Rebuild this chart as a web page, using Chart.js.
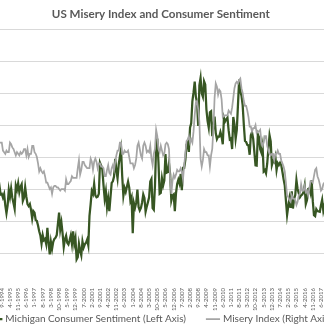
<!DOCTYPE html>
<html>
<head>
<meta charset="utf-8">
<script src="https://cdn.jsdelivr.net/npm/chart.js@4/dist/chart.umd.min.js"></script>
<style>
  html, body { margin: 0; padding: 0; background: #fff; }
  #wrap { position: relative; width: 324px; height: 329px; overflow: hidden; }
  #chart { position: absolute; left: -48px; top: 0; }
</style>
</head>
<body>
<div id="wrap"><canvas id="chart" width="420" height="334"></canvas></div>
<script>
// monthly data, Feb 1994 .. Dec 2017
const startYear = 1994, startMonth = 2;

// University of Michigan consumer sentiment (left axis, reversed)
const sentiment = [
  93.2, 91.5, 92.6, 92.8, 91.2, 89.0, 91.7, 91.5, 92.7, 91.6, 95.1,            // 1994
  97.6, 95.1, 90.3, 92.5, 89.8, 92.7, 94.4, 96.2, 88.9, 90.2, 88.2, 91.0,      // 1995
  89.3, 88.5, 93.7, 92.7, 89.4, 92.4, 94.7, 95.3, 94.7, 96.5, 99.2, 96.9,      // 1996
  97.4, 99.7, 100.0, 101.4, 103.2, 104.5, 107.1, 104.4, 106.0, 105.6, 107.2, 102.1, // 1997
  106.6, 110.4, 106.5, 108.7, 106.5, 105.6, 105.2, 104.4, 100.9, 97.4, 102.7, 100.5, // 1998
  103.9, 108.1, 105.7, 104.6, 106.8, 107.3, 106.0, 104.5, 107.2, 103.2, 107.2, 105.4, // 1999
  112.0, 111.3, 107.1, 109.2, 110.7, 106.4, 108.3, 107.3, 106.8, 105.8, 107.6, 98.4,  // 2000
  94.7, 90.6, 91.5, 88.4, 92.0, 92.6, 92.4, 91.5, 81.8, 82.7, 83.9, 88.8,      // 2001
  93.0, 90.7, 95.7, 93.0, 96.9, 92.4, 88.1, 87.6, 86.1, 80.6, 84.2, 86.7,      // 2002
  82.4, 79.9, 77.6, 86.0, 92.1, 89.7, 90.9, 89.3, 87.7, 89.6, 93.7, 92.6,      // 2003
  103.8, 94.4, 95.8, 94.2, 90.2, 95.6, 96.7, 95.9, 94.2, 91.7, 92.8, 97.1,     // 2004
  95.5, 94.1, 92.6, 87.7, 86.9, 96.0, 96.5, 89.1, 76.9, 74.2, 81.6, 91.5,      // 2005
  91.2, 86.7, 88.9, 87.4, 79.1, 84.9, 84.7, 82.0, 85.4, 93.6, 92.1, 91.7,      // 2006
  96.9, 91.3, 88.4, 87.1, 88.3, 85.3, 90.4, 83.4, 83.4, 80.9, 76.1, 75.5,      // 2007
  78.4, 70.8, 69.5, 62.6, 59.8, 56.4, 61.2, 63.0, 70.3, 57.6, 55.3, 60.1,      // 2008
  61.2, 56.3, 57.3, 65.1, 68.7, 70.8, 66.0, 65.7, 73.5, 70.6, 67.4, 72.5,      // 2009
  74.4, 73.6, 73.6, 72.2, 73.6, 76.0, 67.8, 68.9, 68.2, 67.7, 71.6, 74.5,      // 2010
  74.2, 77.5, 67.5, 69.8, 74.3, 71.5, 63.7, 55.8, 59.5, 60.8, 63.7, 69.9,      // 2011
  75.0, 75.3, 76.2, 76.4, 79.3, 73.2, 72.3, 74.3, 78.3, 82.6, 82.7, 72.9,      // 2012
  73.8, 77.6, 78.6, 76.4, 84.5, 84.1, 85.1, 82.1, 77.5, 73.2, 75.1, 82.5,      // 2013
  81.2, 81.6, 80.0, 84.1, 81.9, 82.5, 81.8, 82.5, 84.6, 86.9, 88.8, 93.6,      // 2014
  98.1, 95.4, 93.0, 95.9, 90.7, 96.1, 93.1, 91.9, 87.2, 90.0, 91.3, 92.6,      // 2015
  92.0, 91.7, 91.0, 89.0, 94.7, 93.5, 90.0, 89.8, 91.2, 87.2, 93.8, 98.2,      // 2016
  98.5, 96.3, 96.9, 97.0, 97.1, 95.1, 93.4, 96.8, 95.1, 100.7, 98.5, 95.9      // 2017
];

// misery index = unemployment + CPI inflation (right axis)
const misery = [
  9.1, 9.0, 8.8, 8.4, 8.6, 8.9, 8.9, 8.9, 8.4, 8.3, 8.2,                       // 1994
  8.4, 8.3, 8.3, 8.9, 8.8, 8.6, 8.5, 8.3, 8.1, 8.3, 8.2, 8.1,                  // 1995
  8.3, 8.2, 8.3, 8.5, 8.5, 8.1, 8.5, 8.0, 8.2, 8.2, 8.7, 8.7,                  // 1996
  8.3, 8.2, 8.0, 7.6, 7.1, 7.3, 7.1, 7.0, 7.1, 6.8, 6.4, 6.4,                  // 1997
  6.2, 6.0, 6.1, 5.7, 6.1, 6.2, 6.2, 6.1, 6.1, 6.0, 5.9, 6.0,                  // 1998
  6.0, 6.0, 5.9, 6.6, 6.3, 6.3, 6.4, 6.5, 6.8, 6.7, 6.7, 6.7,                  // 1999
  6.7, 7.3, 7.8, 6.9, 7.2, 7.7, 7.7, 7.5, 7.4, 7.3, 7.3, 7.3,                  // 2000
  7.9, 7.7, 7.2, 7.7, 7.9, 7.7, 7.3, 7.6, 7.6, 7.4, 7.4, 7.3,                  // 2001
  6.8, 6.8, 7.2, 7.5, 7.0, 6.9, 7.3, 7.5, 7.2, 7.7, 8.1, 8.4,                  // 2002
  8.4, 8.9, 8.9, 8.2, 8.2, 8.4, 8.3, 8.3, 8.4, 8.0, 7.6, 7.6,                  // 2003
  7.6, 7.3, 7.5, 7.9, 8.7, 8.9, 8.5, 8.1, 7.9, 8.7, 8.9, 8.7,                  // 2004
  8.3, 8.4, 8.3, 8.7, 7.9, 7.5, 8.2, 8.5, 9.7, 9.3, 8.5, 8.3,                  // 2005
  8.7, 8.4, 8.1, 8.2, 8.8, 8.9, 8.8, 8.5, 6.6, 5.7, 6.5, 6.9,                  // 2006
  6.7, 6.9, 7.2, 7.1, 7.1, 7.3, 7.1, 6.6, 7.5, 8.2, 9.0, 9.1,                  // 2007
  9.3, 8.9, 9.1, 8.9, 9.6, 10.6, 11.4, 11.5, 11.0, 10.2, 7.9, 7.4,             // 2008
  7.8, 8.5, 8.3, 8.3, 8.1, 8.1, 7.4, 8.1, 8.5, 9.8, 11.7, 12.6,                // 2009
  12.4, 11.9, 12.2, 12.1, 11.6, 10.5, 10.6, 10.6, 10.6, 10.6, 10.9, 10.8,      // 2010
  10.7, 11.1, 11.7, 12.3, 12.6, 12.7, 12.6, 12.8, 12.9, 12.3, 12.0, 11.5,      // 2011
  11.2, 11.2, 10.9, 10.5, 9.9, 9.9, 9.6, 9.8, 9.8, 10.0, 9.5, 9.6,             // 2012
  9.6, 9.7, 9.0, 8.7, 8.9, 9.3, 9.3, 8.7, 8.4, 8.2, 8.1, 8.2,                  // 2013
  8.2, 7.8, 8.2, 8.2, 8.4, 8.2, 8.2, 7.8, 7.6, 7.4, 7.1, 6.4,                  // 2014
  5.6, 5.5, 5.3, 5.2, 5.6, 5.4, 5.4, 5.3, 5.0, 5.2, 5.6, 5.7,                  // 2015
  6.3, 5.9, 5.9, 6.2, 5.8, 5.9, 5.6, 6.0, 6.5, 6.5, 6.4, 6.8,                  // 2016
  7.2, 7.3, 6.8, 6.6, 6.3, 5.9, 6.0, 6.3, 6.4, 6.1, 6.4, 6.2                   // 2017
];

const leftAxis = { min: 40, max: 120, step: 10 };
const rightAxis = { min: 0, max: 16, step: 2 };
const labelEvery = 7;

// month labels like "4-1995"
const labels = sentiment.map((_, i) => {
  const m = startMonth - 1 + i;
  return (m % 12 + 1) + '-' + (startYear + Math.floor(m / 12));
});

const FONT = 'Lato, "Open Sans", sans-serif';
const TEXT = '#595959';

new Chart(document.getElementById('chart'), {
  type: 'line',
  data: {
    labels,
    datasets: [
      {
        label: 'Michigan Consumer Sentiment (Left Axis)',
        data: sentiment,
        yAxisID: 'y',
        borderColor: '#375623',
        backgroundColor: '#375623',
        borderWidth: 2.25,
        pointRadius: 0,
        tension: 0,
        order: 1
      },
      {
        label: 'Misery Index (Right Axis)',
        data: misery,
        yAxisID: 'y2',
        borderColor: '#a5a5a5',
        backgroundColor: '#a5a5a5',
        borderWidth: 1.75,
        pointRadius: 0,
        tension: 0,
        order: 0
      }
    ]
  },
  options: {
    responsive: false,
    animation: false,
    layout: { padding: { left: 11.6, right: 14, top: 0, bottom: 0 } },
    plugins: {
      title: {
        display: true,
        text: 'US Misery Index and Consumer Sentiment',
        color: TEXT,
        font: { family: FONT, size: 11.6, weight: 'bold' },
        padding: { top: 7.6, bottom: 7.5 }
      },
      legend: {
        position: 'bottom',
        labels: {
          usePointStyle: true,
          pointStyle: 'line',
          color: TEXT,
          font: { family: FONT, size: 10 },
          padding: 22,
          sort: (a, b) => a.datasetIndex - b.datasetIndex
        }
      },
      tooltip: { enabled: false }
    },
    scales: {
      x: {
        grid: { display: false, drawTicks: false },
        border: { display: false },
        ticks: {
          autoSkip: false,
          maxRotation: 90,
          minRotation: 90,
          padding: 3,
          color: TEXT,
          font: { family: FONT, size: 6 },
          callback: function (v, i) { return i % labelEvery === 0 ? this.getLabelForValue(v) : null; }
        },
        afterFit: s => {
          s.height = 7;
          // labels hang down into the legend band, don't clip them to the short axis box
          s._computeLabelArea = () => undefined;
        }
      },
      y: {
        position: 'left',
        reverse: true,
        min: leftAxis.min, max: leftAxis.max,
        ticks: { stepSize: leftAxis.step, color: TEXT, font: { family: FONT, size: 9 } },
        grid: {
          drawTicks: false,
          color: c => c.tick && c.tick.value === leftAxis.max ? 'rgba(0,0,0,0)' : '#d9d9d9'
        },
        border: { display: false },
        afterFit: s => { s.width = 30; }
      },
      y2: {
        position: 'right',
        min: rightAxis.min, max: rightAxis.max,
        ticks: { stepSize: rightAxis.step, color: TEXT, font: { family: FONT, size: 9 } },
        grid: { drawOnChartArea: false, drawTicks: false },
        border: { display: false },
        afterFit: s => { s.width = 30; }
      }
    }
  }
});
</script>
</body>
</html>
